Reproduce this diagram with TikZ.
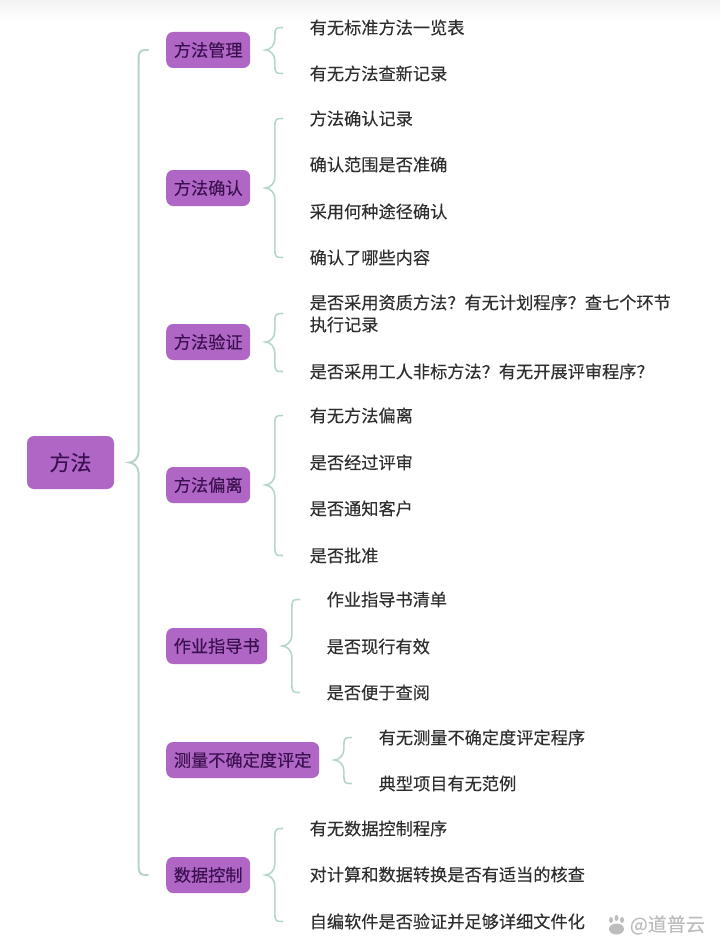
\documentclass[tikz,border=0pt]{standalone}
\usepackage{fontspec}
\setmainfont[FakeBold=0.15]{Noto Sans CJK SC}
\newfontfamily\smallmark{Liberation Sans}
\definecolor{nodefill}{HTML}{B066C4}
\definecolor{nodetext}{HTML}{3A1050}
\definecolor{leaftext}{HTML}{2E2E2E}
\definecolor{brc}{HTML}{B5D6CC}
\definecolor{mainbrc}{HTML}{B8D2CE}
\definecolor{wm}{HTML}{BDBDBD}
\tikzset{
  rootnode/.style={fill=nodefill,rounded corners=7pt,minimum width=87pt,minimum height=53pt,inner sep=0pt,text=nodetext,font=\fontsize{21}{25}\selectfont},
  subnode/.style={fill=nodefill,rounded corners=7pt,minimum height=36pt,inner sep=0pt,anchor=west,text=nodetext,font=\fontsize{17.2}{21}\selectfont},
  leaf/.style={anchor=west,inner sep=0pt,text=leaftext,font=\fontsize{17.2}{22}\selectfont,align=left},
  bracepath/.style={draw=brc,line width=1.6pt,line cap=round},
  mainbrace/.style={draw=mainbrc,line width=2pt,line cap=round},
}
\newcommand{\branchbrace}[5]{%
  \begin{scope}
    \coordinate (t) at ([xshift=15pt]#2.east);
    \coordinate (a0) at ([xshift=-#5pt]#3.west);
    \coordinate (b0) at ([xshift=-#5pt]#4.west);
    \coordinate (s) at ([xshift=9.5pt]t);
    \coordinate (stop) at (s |- a0);
    \coordinate (sbot) at (s |- b0);
    \draw[#1] (a0) .. controls ([xshift=-6pt]a0) and (stop) .. ([yshift=-8pt]stop)
      -- ([yshift=11pt]s) .. controls ([yshift=4pt]s) and ([xshift=4pt]t) .. (t)
      .. controls ([xshift=4pt]t) and ([yshift=-4pt]s) .. ([yshift=-11pt]s)
      -- ([yshift=8pt]sbot) .. controls (sbot) and ([xshift=-6pt]b0) .. (b0);
  \end{scope}}
\begin{document}
\begin{tikzpicture}[x=1pt,y=-1pt]
\useasboundingbox (0,0) rectangle (720,950);
\fill[white] (0,0) rectangle (720,950);
\shade[top color=black!5,bottom color=white] (0,0) rectangle (720,20);

\node[rootnode] (root) at (70.5,462.5) {方法};

\node[subnode,minimum width=84pt] (m1) at (166,50) {方法管理};
\node[subnode,minimum width=84pt] (m2) at (166,188) {方法确认};
\node[subnode,minimum width=84pt] (m3) at (166,342) {方法验证};
\node[subnode,minimum width=84pt] (m4) at (166,485) {方法偏离};
\node[subnode,minimum width=101pt] (m5) at (166,646) {作业指导书};
\node[subnode,minimum width=153pt] (m6) at (166,760) {测量不确定度评定};
\node[subnode,minimum width=84pt] (m7) at (166,875) {数据控制};

\node[leaf] (a1) at (309.5,27.5) {有无标准方法一览表};
\node[leaf] (a2) at (309.5,73.5) {有无方法查新记录};

\node[leaf] (b1) at (309.5,118.5) {方法确认记录};
\node[leaf] (b2) at (309.5,164.5) {确认范围是否准确};
\node[leaf] (b3) at (309.5,211.5) {采用何种途径确认};
\node[leaf] (b4) at (309.5,257.5) {确认了哪些内容};

\node[leaf] (c1) at (309.5,313.5) {是否采用资质方法？有无计划程序？查七个环节\\执行记录};
\node[leaf] (c2) at (309.5,371.5) {是否采用工人非标方法？有无开展评审程序？};

\node[leaf] (d1) at (309.5,415.5) {有无方法偏离};
\node[leaf] (d2) at (309.5,462.5) {是否经过评审};
\node[leaf] (d3) at (309.5,508.5) {是否通知客户};
\node[leaf] (d4) at (309.5,555.5) {是否批准};

\node[leaf] (e1) at (326.5,599.5) {作业指导书清单};
\node[leaf] (e2) at (326.5,646.5) {是否现行有效};
\node[leaf] (e3) at (326.5,692.5) {是否便于查阅};

\node[leaf] (f1) at (378.5,737.5) {有无测量不确定度评定程序};
\node[leaf] (f2) at (378.5,783.5) {典型项目有无范例};

\node[leaf] (g1) at (309.5,828.5) {有无数据控制程序};
\node[leaf] (g2) at (309.5,874.5) {对计算和数据转换是否有适当的核查};
\node[leaf] (g3) at (309.5,921.5) {自编软件是否验证并足够详细文件化};

\node[anchor=east,inner sep=0pt,text=wm,font=\fontsize{19}{22}\selectfont] (wmark) at (705,925) {@道普云};
% paw mark of the watermark
\fill[wm] (611,920) ellipse (2pt and 3pt) (616.5,918) ellipse (2pt and 3pt) (622,920) ellipse (2pt and 3pt);
\fill[wm] (616.5,929) ellipse (7.5pt and 5.5pt);

\branchbrace{mainbrace}{root}{m1}{m7}{18}
\branchbrace{bracepath}{m1}{a1}{a2}{27}
\branchbrace{bracepath}{m2}{b1}{b4}{27}
\branchbrace{bracepath}{m3}{c1}{c2}{27}
\branchbrace{bracepath}{m4}{d1}{d4}{27}
\branchbrace{bracepath}{m5}{e1}{e3}{27}
\branchbrace{bracepath}{m6}{f1}{f2}{27}
\branchbrace{bracepath}{m7}{g1}{g3}{27}
\end{tikzpicture}
\end{document}
